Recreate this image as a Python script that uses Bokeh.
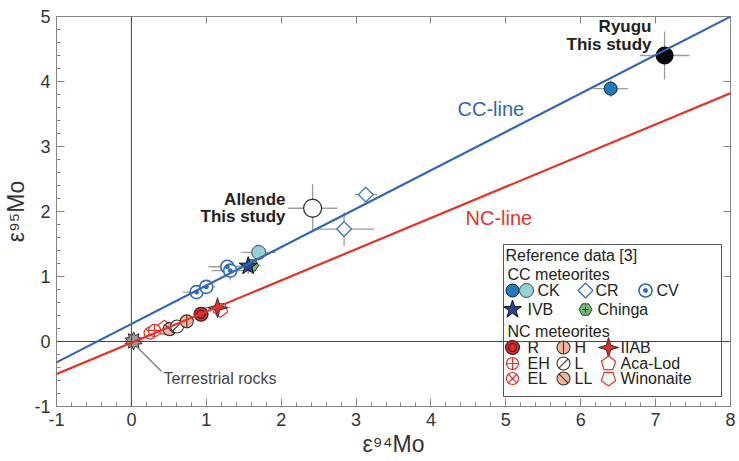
import numpy as np
from bokeh.plotting import figure
from bokeh.models import Range1d, Span, LinearAxis, FixedTicker, Slope
from bokeh.core.properties import value
from bokeh.embed import file_html
from bokeh.resources import INLINE

# ---------------- data ----------------
x_ticks = [-1, 0, 1, 2, 3, 4, 5, 6, 7, 8]
x_tick_labels = ["-1", "0", "1", "2", "3", "4", "5", "6", "7", "8"]
y_ticks = [-1, 0, 1, 2, 3, 4, 5]
y_tick_labels = ["-1", "0", "1", "2", "3", "4", "5"]

line_names = ["CC-line", "NC-line"]
line_slopes = [0.591, 0.480]
line_intercepts = [0.27, -0.02]

ryugu_x = [7.12]; ryugu_y = [4.40]; ryugu_xerr = [0.33]; ryugu_yerr = [0.37]
allende_x = [2.42]; allende_y = [2.05]; allende_xerr = [0.33]; allende_yerr = [0.37]

ck_dark_x = [6.40]; ck_dark_y = [3.89]; ck_dark_xerr = [0.23]; ck_dark_yerr = [0.13]
ck_light_x = [1.70]; ck_light_y = [1.37]; ck_light_xerr = [0.23]; ck_light_yerr = [0.12]
cr_x = [3.13, 2.84]; cr_y = [2.26, 1.73]; cr_xerr = [0.15, 0.40]; cr_yerr = [0.04, 0.26]
cv_x = [0.87, 1.00, 1.28, 1.32]; cv_y = [0.76, 0.84, 1.15, 1.09]
cv_xerr = [0.18, 0.12, 0.25, 0.25]; cv_yerr = [0.08, 0.06, 0.10, 0.15]
ivb_x = [1.56]; ivb_y = [1.16]; ivb_xerr = [0.14]; ivb_yerr = [0.12]
chinga_x = [1.61]; chinga_y = [1.17]; chinga_xerr = [0.12]; chinga_yerr = [0.10]

terr_x = [0.03]; terr_y = [0.01]; terr_xerr = [0.12]; terr_yerr = [0.05]
eh_x = [0.31]; eh_y = [0.17]
el_x = [0.25]; el_y = [0.13]
acalod_x = [0.44]; acalod_y = [0.21]
ll_x = [0.51]; ll_y = [0.19]
l_x = [0.61]; l_y = [0.23]
h_x = [0.74]; h_y = [0.31]
r_x = [0.93]; r_y = [0.42]; r_xerr = [0.10]; r_yerr = [0.05]
iiab_x = [1.15]; iiab_y = [0.52]; iiab_xerr = [0.17]; iiab_yerr = [0.09]
win_x = [1.19]; win_y = [0.49]

# ---------------- styling ----------------
FONT = "Liberation Sans"
GRAY = "#858585"
EB = "#9d9d9d"
BLUE = "#3265b5"
RED = "#e6332a"
PEACH = "#f3b49c"
FW, FH = 674, 390
X0, X1 = -1, 8
Y0, Y1 = -1, 5
PX = dict(x_range_name="px", y_range_name="py")


def to_px(xs, ys):
    return ([(x - X0) / (X1 - X0) * FW for x in xs],
            [(Y1 - y) / (Y1 - Y0) * FH for y in ys])


p = figure(frame_width=FW, frame_height=FH,
           x_range=Range1d(X0, X1), y_range=Range1d(Y0, Y1),
           output_backend="svg", toolbar_location=None,
           min_border_left=48, min_border_right=8, min_border_top=8,
           min_border_bottom=50)
p.extra_x_ranges = {"px": Range1d(0, FW)}
p.extra_y_ranges = {"py": Range1d(FH, 0)}
p.grid.visible = False
p.outline_line_color = GRAY
p.background_fill_color = "white"
p.border_fill_color = "white"

p.xaxis.ticker = FixedTicker(ticks=x_ticks,
                             minor_ticks=[round(v, 2) for v in np.arange(-1, 8.001, 0.2)])
p.yaxis.ticker = FixedTicker(ticks=y_ticks,
                             minor_ticks=[round(v, 2) for v in np.arange(-1, 5.001, 0.2)])
p.xaxis.major_label_overrides = {t: s for t, s in zip(x_ticks, x_tick_labels)}
p.yaxis.major_label_overrides = {t: s for t, s in zip(y_ticks, y_tick_labels)}
p.xaxis.axis_label = "ε⁹⁴Mo"
p.yaxis.axis_label = "ε⁹⁵Mo"
for ax in (p.xaxis, p.yaxis):
    ax.axis_line_color = GRAY
    ax.major_tick_line_color = GRAY
    ax.minor_tick_line_color = GRAY
    ax.major_tick_in = 8
    ax.major_tick_out = 0
    ax.minor_tick_in = 4
    ax.minor_tick_out = 0
    ax.major_label_text_font = FONT
    ax.major_label_text_font_size = "18px"
    ax.major_label_text_color = "#333333"
    ax.major_label_standoff = 6
    ax.axis_label_text_font = FONT
    ax.axis_label_text_font_size = "23px"
    ax.axis_label_text_font_style = "normal"
    ax.axis_label_text_color = "#333333"
    ax.axis_label_standoff = 2

top_ax = LinearAxis(ticker=FixedTicker(ticks=x_ticks),
                    major_label_overrides={t: "" for t in x_ticks},
                    major_label_text_font_size="1px", major_label_standoff=0,
                    major_tick_in=7, major_tick_out=0, minor_tick_in=0, minor_tick_out=0,
                    axis_line_color=GRAY, major_tick_line_color=GRAY)
right_ax = LinearAxis(ticker=FixedTicker(ticks=y_ticks),
                      major_label_overrides={t: "" for t in y_ticks},
                      major_label_text_font_size="1px", major_label_standoff=0,
                      major_tick_in=7, major_tick_out=0, minor_tick_in=0, minor_tick_out=0,
                      axis_line_color=GRAY, major_tick_line_color=GRAY)
p.add_layout(top_ax, "above")
p.add_layout(right_ax, "right")
p.min_border_top = 16

# zero lines
p.add_layout(Span(location=0, dimension="height", line_color="#444444", line_width=1))
p.add_layout(Span(location=0, dimension="width", line_color="#444444", line_width=1))

# reference lines
for name, s, b, c in zip(line_names, line_slopes, line_intercepts, [BLUE, RED]):
    p.add_layout(Slope(gradient=s, y_intercept=b, line_color=c, line_width=2.2))


def err(xs, ys, xe, ye):
    p.segment([x - e for x, e in zip(xs, xe)], ys, [x + e for x, e in zip(xs, xe)], ys,
              line_color=EB, line_width=1.3)
    p.segment(xs, [y - e for y, e in zip(ys, ye)], xs, [y + e for y, e in zip(ys, ye)],
              line_color=EB, line_width=1.3)


def poly(cx, cy, radii, n, rot):
    xs, ys = [], []
    for k in range(n):
        t = np.deg2rad(rot) + 2 * np.pi * k / n
        r = radii[k % len(radii)]
        xs.append(cx + r * np.cos(t))
        ys.append(cy - r * np.sin(t))
    return xs, ys


def mark(kind, xs, ys, space="data"):
    kw = {} if space == "data" else PX
    if space == "data":
        pxs, pys = to_px(xs, ys)
    else:
        pxs, pys = xs, ys
    if kind == "ck_dark":
        p.scatter(xs, ys, marker="circle", size=13, fill_color="#1f7cc0", line_color="#1a1a1a", line_width=1, **kw)
    elif kind == "ck_light":
        p.scatter(xs, ys, marker="circle", size=14, fill_color="#93d0d7", line_color="#444444", line_width=1, **kw)
    elif kind == "cr":
        p.scatter(xs, ys, marker="square", angle=np.pi / 4, size=10.5, fill_color="white", line_color="#3a6fc4", line_width=1.3, **kw)
    elif kind == "cv":
        p.scatter(xs, ys, marker="circle", size=13, fill_color="white", line_color="#2f6bc0", line_width=1.6, **kw)
        p.scatter(xs, ys, marker="circle", size=4, fill_color="#2f6bc0", line_color="#2f6bc0", **kw)
    elif kind == "ivb":
        p.scatter(xs, ys, marker="star", size=19, fill_color="#23469b", line_color="#111111", line_width=1, **kw)
    elif kind == "chinga":
        p.scatter(xs, ys, marker="hex", size=13, fill_color="#6dbf72", line_color="#333333", line_width=1, **kw)
        p.scatter(xs, ys, marker="cross", size=6, line_color="#1a1a1a", line_width=1, **kw)
    elif kind == "terr":
        pxx, pyy = [], []
        for cx, cy in zip(pxs, pys):
            a, b = poly(cx, cy, [9, 5.5], 20, 90)
            pxx.append(a); pyy.append(b)
        p.patches(pxx, pyy, fill_color="#9b9b9b", line_color="#333333", line_width=1, **PX)
    elif kind == "eh":
        p.scatter(xs, ys, marker="circle_cross", size=12, fill_color="white", line_color=RED, line_width=1.2, **kw)
    elif kind == "el":
        p.scatter(xs, ys, marker="circle_x", size=12, fill_color="white", line_color=RED, line_width=1.2, **kw)
    elif kind in ("acalod", "win"):
        pxx, pyy = [], []
        for cx, cy in zip(pxs, pys):
            a, b = poly(cx, cy, [7.5], 5, 90 if kind == "acalod" else -90)
            pxx.append(a); pyy.append(b)
        p.patches(pxx, pyy, fill_color="white", line_color=RED, line_width=1.2, **PX)
    elif kind in ("ll", "l", "h"):
        fill = "white" if kind == "l" else PEACH
        ang = {"ll": -np.pi / 4, "l": np.pi / 4, "h": np.pi / 2}[kind]
        p.scatter(xs, ys, marker="circle", size=13, fill_color=fill, line_color="#333333", line_width=1.1, **kw)
        p.scatter(xs, ys, marker="dash", angle=ang, size=13, line_color="#333333", line_width=1.1, **kw)
    elif kind == "r":
        p.scatter(xs, ys, marker="circle", size=14, fill_color="#e3262b", line_color="#222222", line_width=1.1, **kw)
        p.scatter(xs, ys, marker="circle", size=8, fill_color="#e3262b", line_color="#222222", line_width=1.1, **kw)
    elif kind == "iiab":
        pxx, pyy = [], []
        for cx, cy in zip(pxs, pys):
            a, b = poly(cx, cy, [10, 3.2], 8, 0)
            pxx.append(a); pyy.append(b)
        p.patches(pxx, pyy, fill_color="#e8262a", line_color="#333333", line_width=1, **PX)


# error bars
for xs, ys, xe, ye in [(cr_x, cr_y, cr_xerr, cr_yerr), (cv_x, cv_y, cv_xerr, cv_yerr),
                       (ck_dark_x, ck_dark_y, ck_dark_xerr, ck_dark_yerr),
                       (ck_light_x, ck_light_y, ck_light_xerr, ck_light_yerr),
                       (ivb_x, ivb_y, ivb_xerr, ivb_yerr), (chinga_x, chinga_y, chinga_xerr, chinga_yerr),
                       (terr_x, terr_y, terr_xerr, terr_yerr), (r_x, r_y, r_xerr, r_yerr),
                       (iiab_x, iiab_y, iiab_xerr, iiab_yerr),
                       (allende_x, allende_y, allende_xerr, allende_yerr),
                       (ryugu_x, ryugu_y, ryugu_xerr, ryugu_yerr)]:
    err(xs, ys, xe, ye)

# NC points
mark("win", win_x, win_y)
mark("acalod", acalod_x, acalod_y)
mark("el", el_x, el_y)
mark("eh", eh_x, eh_y)
mark("ll", ll_x, ll_y)
mark("l", l_x, l_y)
mark("h", h_x, h_y)
mark("r", r_x, r_y)
mark("iiab", iiab_x, iiab_y)
mark("terr", terr_x, terr_y)
# CC points
mark("cv", cv_x, cv_y)
mark("chinga", chinga_x, chinga_y)
mark("ivb", ivb_x, ivb_y)
mark("ck_light", ck_light_x, ck_light_y)
mark("ck_dark", ck_dark_x, ck_dark_y)
mark("cr", cr_x, cr_y)
p.scatter(allende_x, allende_y, marker="circle", size=18, fill_color="white", line_color="#333333", line_width=1.3)
p.scatter(ryugu_x, ryugu_y, marker="circle", size=17, fill_color="black", line_color="black")

# annotations (screen-pixel frame coordinates)
p.segment([80], [330], [105], [355], line_color="#777777", line_width=1.2, **PX)
p.text([107], [362], text=["Terrestrial rocks"], text_font=value(FONT), text_font_size="16px",
       text_color="#444444", text_align="left", text_baseline="middle", **PX)
p.text([595, 595], [10, 28], text=["Ryugu", "This study"], text_font=value(FONT),
       text_font_size="17px", text_font_style="bold", text_color="#222222",
       text_align="right", text_baseline="middle", **PX)
p.text([229, 229], [183, 200], text=["Allende", "This study"], text_font=value(FONT),
       text_font_size="17px", text_font_style="bold", text_color="#222222",
       text_align="right", text_baseline="middle", **PX)
p.text([401], [92], text=[line_names[0]], text_font=value(FONT), text_font_size="20px",
       text_color=BLUE, text_align="left", text_baseline="middle", **PX)
p.text([409], [201], text=[line_names[1]], text_font=value(FONT), text_font_size="20px",
       text_color=RED, text_align="left", text_baseline="middle", **PX)

# legend box
p.quad(left=[447], right=[665], top=[228], bottom=[380], fill_color="white",
       line_color="#555555", line_width=1, **PX)
leg_text = ["Reference data [3]", "CC meteorites", "CK", "CR", "CV", "IVB", "Chinga",
            "NC meteorites", "R", "H", "IIAB", "EH", "L", "Aca-Lod", "EL", "LL", "Winonaite"]
leg_tx = [449, 451, 481, 539, 600, 471, 541, 451, 471, 518, 564, 471, 518, 564, 471, 518, 564]
leg_ty = [239, 258, 274, 274, 274, 293, 293, 315, 331, 331, 331, 347, 347, 347, 362, 362, 362]
p.text(leg_tx, leg_ty, text=leg_text, text_font=value(FONT), text_font_size="16px",
       text_color="#222222", text_align="left", text_baseline="middle", **PX)
for kind, lx, ly in [("ck_dark", 456, 274), ("ck_light", 470, 274), ("cr", 529, 274),
                     ("cv", 589, 274), ("ivb", 456, 293), ("chinga", 529, 293),
                     ("r", 456, 331), ("h", 507, 331), ("iiab", 552, 331),
                     ("eh", 456, 347), ("l", 507, 347), ("acalod", 552, 347),
                     ("el", 456, 362), ("ll", 507, 362), ("win", 552, 362)]:
    mark(kind, [lx], [ly], space="px")

open("out.html", "w").write(file_html(p, INLINE))
